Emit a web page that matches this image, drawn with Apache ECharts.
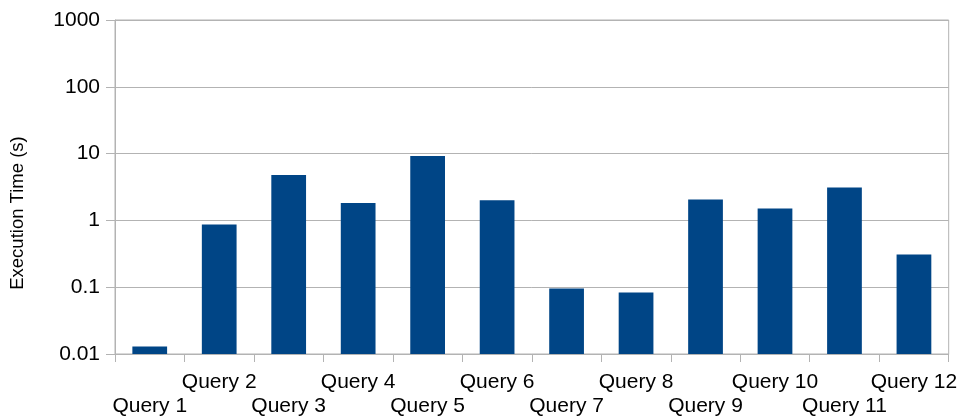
<!DOCTYPE html>
<html>
<head>
<meta charset="utf-8">
<style>
  html, body { margin: 0; padding: 0; background: #fff; }
  #chart { width: 960px; height: 419px; }
</style>
<script src="https://cdn.jsdelivr.net/npm/echarts@6/dist/echarts.min.js"></script>
</head>
<body>
<div id="chart"></div>
<script>
// Query names shown along the category axis
const queries = ['Query 1', 'Query 2', 'Query 3', 'Query 4', 'Query 5', 'Query 6',
                 'Query 7', 'Query 8', 'Query 9', 'Query 10', 'Query 11', 'Query 12'];
// Execution time per query, in seconds
const executionTimes = [0.013, 0.87, 4.8, 1.82, 9.2, 2.0, 0.096, 0.083, 2.06, 1.51, 3.12, 0.31];
// Decade tick labels of the logarithmic value axis
const yTickLabels = ['0.01', '0.1', '1', '10', '100', '1000'];

const gridColor = '#b3b3b3';
const font = 'Liberation Sans, Arial, sans-serif';

const chart = echarts.init(document.getElementById('chart'), null, { renderer: 'canvas' });

chart.setOption({
  animation: false,
  grid: {
    left: 115, right: 8, top: 20, bottom: 65,
    show: true, borderColor: gridColor, borderWidth: 1, backgroundColor: 'transparent'
  },
  xAxis: {
    type: 'category',
    data: queries,
    boundaryGap: true,
    axisLine: { lineStyle: { color: gridColor, width: 1 } },
    axisTick: { show: true, length: 8, alignWithLabel: false, lineStyle: { color: gridColor } },
    axisLabel: {
      interval: 0,
      margin: 16,
      color: '#000',
      fontFamily: font,
      fontSize: 21,
      lineHeight: 24,
      // alternate labels between two rows so they do not overlap
      formatter: (value, index) => (index % 2 === 0 ? '\n' + value : value)
    },
    splitLine: { show: false }
  },
  yAxis: {
    type: 'log',
    logBase: 10,
    min: 0.01,
    max: 1000,
    startValue: 0.01,
    name: 'Execution Time (s)',
    nameLocation: 'middle',
    nameGap: 88,
    // extra trailing padding moves the rotated title down toward the label rows
    nameTextStyle: { color: '#000', fontFamily: font, fontSize: 18.5, padding: [0, 52, 0, 0] },
    axisLine: { show: true, lineStyle: { color: gridColor, width: 1 } },
    axisTick: { show: true, length: 9, lineStyle: { color: gridColor } },
    axisLabel: {
      margin: 15,
      color: '#000',
      fontFamily: font,
      fontSize: 21,
      formatter: (value) => {
        const idx = Math.round(Math.log10(value)) + 2;
        return yTickLabels[idx] !== undefined ? yTickLabels[idx] : String(value);
      }
    },
    splitLine: { show: true, lineStyle: { color: gridColor, width: 1 } },
    minorTick: { show: false },
    minorSplitLine: { show: false }
  },
  series: [{
    type: 'bar',
    data: executionTimes,
    barWidth: '50%',
    itemStyle: { color: '#004586' }
  }]
});
</script>
</body>
</html>
